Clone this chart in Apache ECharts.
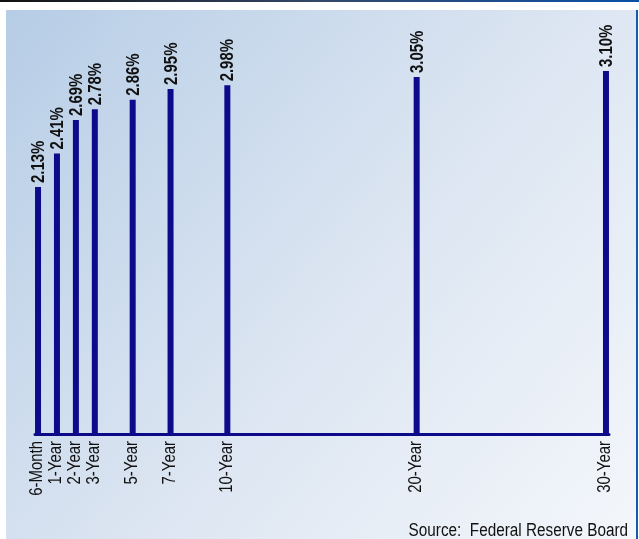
<!DOCTYPE html>
<html>
<head>
<meta charset="utf-8">
<script src="https://cdn.jsdelivr.net/npm/echarts@6/dist/echarts.min.js"></script>
<style>
html,body{margin:0;padding:0;background:#ffffff;}
#chart{width:639px;height:539px;}
</style>
</head>
<body>
<div id="chart"></div>
<script>
var maturityLabels = ['6-Month','1-Year','2-Year','3-Year','5-Year','7-Year','10-Year','20-Year','30-Year'];
var maturityPositions = [0, 1, 2, 3, 5, 7, 10, 20, 30];
var yields = [2.13, 2.41, 2.69, 2.78, 2.86, 2.95, 2.98, 3.05, 3.10];
var sourceText = 'Source:  Federal Reserve Board';

var FONT = '"Liberation Sans", Arial, sans-serif';
var NARROW_SCALE = 0.83;
var Y_MIN = 0.065, Y_MAX = 3.61;
var chart = echarts.init(document.getElementById('chart'), null, {renderer:'canvas'});

var seriesData = maturityPositions.map(function(p, i){ return [p, yields[i]]; });
var labelData = maturityPositions.map(function(p, i){ return [p, yields[i], i]; });

chart.setOption({
  animation: false,
  backgroundColor: '#ffffff',
  graphic: [
    {type:'rect', z:-10, shape:{x:0,y:0,width:639,height:2},
     style:{fill:new echarts.graphic.LinearGradient(0,0,1,0,[{offset:0,color:'#111111'},{offset:0.5,color:'#34486a'},{offset:1,color:'#0a4fa6'}])}},
    {type:'rect', z:-10, shape:{x:6,y:10,width:630,height:529},
     style:{fill:new echarts.graphic.LinearGradient(0,0,1,1,[{offset:0,color:'#b6cde6'},{offset:0.5,color:'#dae4f1'},{offset:1,color:'#f4f7fb'}])}},
    {type:'rect', z:-9, shape:{x:636,y:10,width:2,height:529}, style:{fill:'#1a58ae'}},
    {type:'text', z:5, x:628, y:531, scaleX:0.85,
     style:{text:sourceText, x:0, y:0, align:'right', verticalAlign:'middle',
      font:'18px ' + FONT, fill:'#111111'}}
  ],
  grid: {left:35, right:30, top:10, bottom:105, containLabel:false},
  xAxis: {
    type:'value', min:-0.16, max:30.16,
    splitLine:{show:false},
    axisLine:{show:true, lineStyle:{color:'#0d0a8a', width:3}},
    axisTick:{show:false},
    axisLabel:{show:false}
  },
  yAxis: {type:'value', min:Y_MIN, max:Y_MAX, show:false, splitLine:{show:false}},
  series: [{
    type:'bar', data:seriesData, barWidth:6,
    itemStyle:{color:'#0d0a8c'},
    z:2
  }, {
    type:'custom', data:labelData, clip:false, z:3,
    renderItem:function(params, api){
      var x = api.value(0), v = api.value(1), idx = api.value(2);
      var top = api.coord([x, v]);
      var base = api.coord([x, Y_MIN]);
      return {type:'group', children:[
        {type:'text', x:top[0]+1, y:top[1]-4, rotation:Math.PI/2, scaleX:NARROW_SCALE,
         style:{text:v.toFixed(2)+'%', x:0, y:0, align:'left', verticalAlign:'middle',
           font:'bold 18px ' + FONT, fill:'#111111'}},
        {type:'text', x:base[0]-0.5, y:base[1]+7, rotation:Math.PI/2, scaleX:NARROW_SCALE,
         style:{text:maturityLabels[idx], x:0, y:0, align:'right', verticalAlign:'middle',
           font:'18px ' + FONT, fill:'#111111'}}
      ]};
    }
  }]
});
</script>
</body>
</html>
